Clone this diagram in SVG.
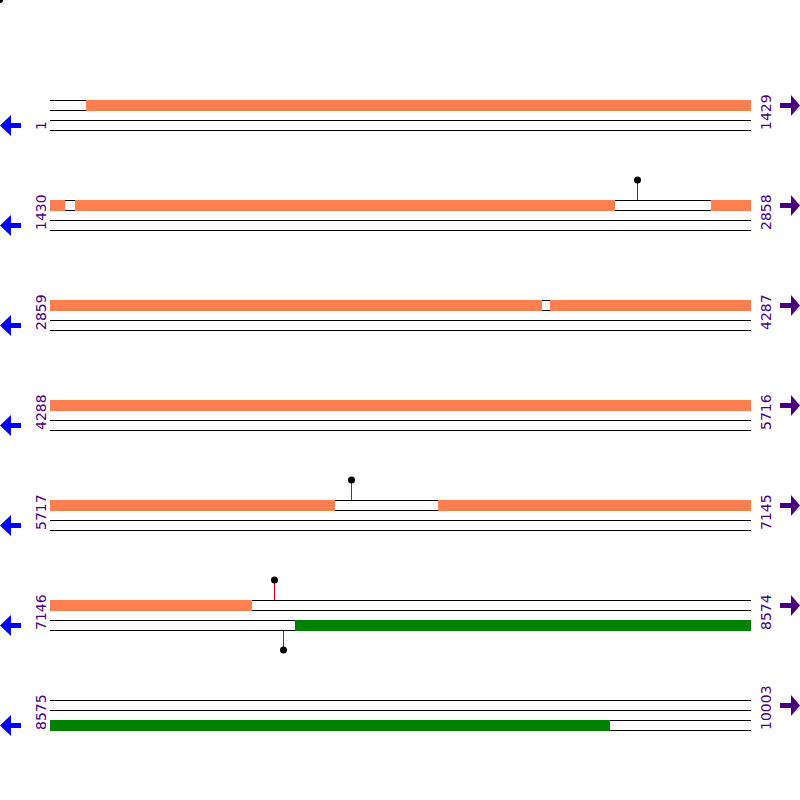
<svg xmlns="http://www.w3.org/2000/svg" width="800" height="800" viewBox="0 0 800 800">
<defs>
<style>
.bg{fill:#ffffff}
.ln{stroke:#000;stroke-width:1;fill:none}
.or{fill:#FF7F50}
.gr{fill:#008000}
.lab{font-family:"DejaVu Sans",sans-serif;font-size:14px;fill:#4B0082}
.stem{stroke:#E00000;stroke-width:1}
.dot{fill:#000}
.la{fill:#0000FF}
.ra{fill:#4B0082}
</style>
<g id="track">
<line class="ln" x1="50" y1="0.5" x2="751" y2="0.5"/>
<line class="ln" x1="50" y1="10.5" x2="751" y2="10.5"/>
<line class="ln" x1="50" y1="20.5" x2="751" y2="20.5"/>
<line class="ln" x1="50" y1="30.5" x2="751" y2="30.5"/>
</g>
<g id="arrows">
<polygon class="la" points="0,25.5 11,15 11,23 21,23 21,28 11,28 11,36"/>
<polygon class="ra" points="800,5.5 791,-5 791,3 780,3 780,8 791,8 791,16"/>
</g>
</defs>
<rect class="bg" x="0" y="0" width="800" height="800"/>
<circle class="dot" cx="0" cy="0" r="3"/>

<g id="row1">
<use href="#track" y="100"/><use href="#arrows" y="100"/>
<rect class="or" x="86" y="100" width="665" height="11"/>
<text class="lab" transform="translate(46,130) rotate(-90)">1</text>
<text class="lab" transform="translate(771,130) rotate(-90)">1429</text>
</g>

<g id="row2">
<use href="#track" y="200"/><use href="#arrows" y="200"/>
<rect class="or" x="50" y="200" width="15" height="11"/>
<rect class="or" x="75" y="200" width="540" height="11"/>
<rect class="or" x="711" y="200" width="40" height="11"/>
<text class="lab" transform="translate(46,230) rotate(-90)">1430</text>
<text class="lab" transform="translate(771,230) rotate(-90)">2858</text>
</g>

<g id="row3">
<use href="#track" y="300"/><use href="#arrows" y="300"/>
<rect class="or" x="50" y="300" width="492" height="11"/>
<rect class="or" x="550" y="300" width="201" height="11"/>
<text class="lab" transform="translate(46,330) rotate(-90)">2859</text>
<text class="lab" transform="translate(771,330) rotate(-90)">4287</text>
</g>

<g id="row4">
<use href="#track" y="400"/><use href="#arrows" y="400"/>
<rect class="or" x="50" y="400" width="701" height="11"/>
<text class="lab" transform="translate(46,430) rotate(-90)">4288</text>
<text class="lab" transform="translate(771,430) rotate(-90)">5716</text>
</g>

<g id="row5">
<use href="#track" y="500"/><use href="#arrows" y="500"/>
<rect class="or" x="50" y="500" width="285" height="11"/>
<rect class="or" x="438" y="500" width="313" height="11"/>
<text class="lab" transform="translate(46,530) rotate(-90)">5717</text>
<text class="lab" transform="translate(771,530) rotate(-90)">7145</text>
</g>

<g id="row6">
<use href="#track" y="600"/><use href="#arrows" y="600"/>
<rect class="or" x="50" y="600" width="202" height="11"/>
<rect class="gr" x="295" y="620" width="456" height="11"/>
<text class="lab" transform="translate(46,630) rotate(-90)">7146</text>
<text class="lab" transform="translate(771,630) rotate(-90)">8574</text>
</g>

<g id="row7">
<use href="#track" y="700"/><use href="#arrows" y="700"/>
<rect class="gr" x="50" y="720" width="560" height="11"/>
<text class="lab" transform="translate(46,730) rotate(-90)">8575</text>
<text class="lab" transform="translate(771,730) rotate(-90)">10003</text>
</g>

<g id="connectors">
<line class="stem" x1="637.5" y1="180" x2="637.5" y2="200"/>
<line class="stem" x1="351.5" y1="480" x2="351.5" y2="500"/>
<line class="stem" x1="274.5" y1="580" x2="274.5" y2="600"/>
<line class="stem" x1="283.5" y1="631" x2="283.5" y2="650"/>
</g>
<g id="lollipops">
<circle class="dot" cx="637.5" cy="180" r="3.5"/>
<circle class="dot" cx="351.5" cy="480" r="3.5"/>
<circle class="dot" cx="274.5" cy="580" r="3.5"/>
<circle class="dot" cx="283.5" cy="650" r="3.5"/>
</g>
</svg>
